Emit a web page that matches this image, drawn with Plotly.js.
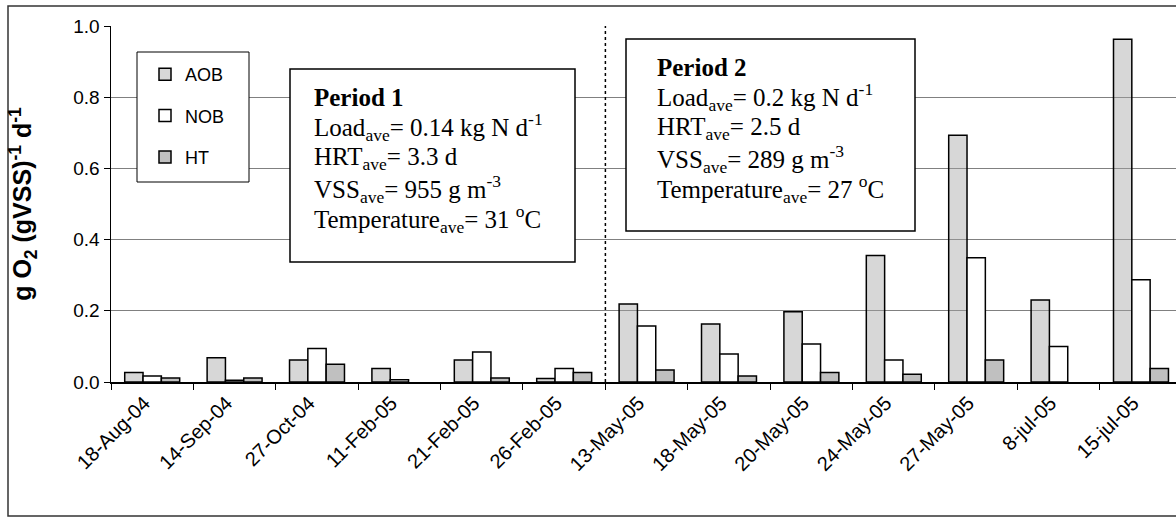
<!DOCTYPE html>
<html>
<head>
<meta charset="utf-8">
<script src="https://cdn.plot.ly/plotly-3.0.1.min.js"></script>
<style>html,body{margin:0;padding:0;background:#fff;overflow:hidden}#chart{width:1176px;height:521px}</style>
</head>
<body>
<div id="chart"></div>
<script>
const dates = ['18-Aug-04','14-Sep-04','27-Oct-04','11-Feb-05','21-Feb-05','26-Feb-05','13-May-05','18-May-05','20-May-05','24-May-05','27-May-05','8-jul-05','15-jul-05'];
const aob = [0.027,0.068,0.062,0.038,0.062,0.010,0.219,0.163,0.197,0.355,0.693,0.230,0.963];
const nob = [0.017,0.005,0.094,0.006,0.084,0.038,0.157,0.079,0.107,0.062,0.349,0.100,0.287];
const ht  = [0.011,0.011,0.050,null,0.011,0.027,0.034,0.017,0.027,0.022,0.062,null,0.038];
const seriesNames = ['AOB','NOB','HT'];
const period1Lines = ['<b>Period 1</b>','Load<sub>ave</sub>= 0.14 kg N d<sup>-1</sup>','HRT<sub>ave</sub>= 3.3 d','VSS<sub>ave</sub>= 955 g m<sup>-3</sup>','Temperature<sub>ave</sub>= 31 <sup>o</sup>C'];
const period2Lines = ['<b>Period 2</b>','Load<sub>ave</sub>= 0.2 kg N d<sup>-1</sup>','HRT<sub>ave</sub>= 2.5 d','VSS<sub>ave</sub>= 289 g m<sup>-3</sup>','Temperature<sub>ave</sub>= 27 <sup>o</sup>C'];
const yTitle = '<b>g O<sub>2</sub> (gVSS)<sup>-1</sup> d<sup>-1</sup></b>';

const W = 1176, H = 521, ML = 111, MR = 0, MT = 26, MB = 139;
const PW = W - ML - MR, PH = H - MT - MB;
const px = x => (x - ML) / PW;
const py = y => (H - MB - y) / PH;

const line = {color:'#000', width:1.5};
const traces = [
  {type:'bar', name:seriesNames[0], x:dates, y:aob, legendgroup:'a',
   marker:{color:'#d2d2d2', line:line, pattern:{shape:'.', fgcolor:'#a4a4a4', size:2, solidity:0.5}}},
  {type:'bar', name:seriesNames[1], x:dates, y:nob, legendgroup:'b',
   marker:{color:'#ffffff', line:line}},
  {type:'bar', name:seriesNames[2], x:dates, y:ht, legendgroup:'c',
   marker:{color:'#c0c0c0', line:line}}
];

const shapes = [
  {type:'rect', xref:'paper', yref:'paper', x0:px(8), x1:px(1190), y0:py(516), y1:py(6), line:{color:'#333', width:1.5}, fillcolor:'rgba(0,0,0,0)', layer:'below'},
  {type:'line', xref:'x', yref:'y', x0:5.5, x1:5.5, y0:0, y1:1, line:{color:'#000', width:1.5, dash:'dot'}},
  {type:'rect', xref:'paper', yref:'paper', x0:px(137), x1:px(249), y0:py(182), y1:py(52), line:{color:'#000', width:1}, fillcolor:'#fff', layer:'above'},
  {type:'rect', xref:'paper', yref:'paper', x0:px(290), x1:px(575), y0:py(262), y1:py(69), line:{color:'#000', width:1.5}, fillcolor:'#fff', layer:'above'},
  {type:'rect', xref:'paper', yref:'paper', x0:px(626), x1:px(915), y0:py(231), y1:py(39), line:{color:'#000', width:1.5}, fillcolor:'#fff', layer:'above'}
];

const annotations = [];
const tf = {family:'"Liberation Serif","Times New Roman",serif', size:25, color:'#000'};
const c2 = [67, 97, 128, 159, 189];
period1Lines.forEach((t,i)=>annotations.push({xref:'paper', yref:'paper', x:px(312), y:py(c2[i]+30), xanchor:'left', yanchor:'middle', text:t, showarrow:false, font:tf}));
period2Lines.forEach((t,i)=>annotations.push({xref:'paper', yref:'paper', x:px(655), y:py(c2[i]), xanchor:'left', yanchor:'middle', text:t, showarrow:false, font:tf}));

const layout = {
  width:W, height:H, margin:{l:ML, r:MR, t:MT, b:MB, pad:0},
  paper_bgcolor:'#fff', plot_bgcolor:'#fff',
  barmode:'group', bargap:0.333, bargroupgap:0,
  font:{family:'"Liberation Sans", Arial, sans-serif', color:'#000', size:17},
  xaxis:{type:'category', range:[-0.5, 12.425], tickson:'boundaries', ticks:'outside', ticklen:6, tickcolor:'#000', tickwidth:1,
         showline:true, linecolor:'#000', linewidth:1.5, showgrid:false, tickangle:-45, tickfont:{size:20}, ticklabelshift:-8, automargin:false},
  yaxis:{range:[0,1], dtick:0.2, tickformat:'.1f', ticks:'outside', ticklen:6, tickcolor:'#000', showline:true, linecolor:'#000', linewidth:1.5,
         showgrid:true, gridcolor:'#808080', gridwidth:1, zeroline:false, tickfont:{size:19}, automargin:false,
         title:{text:yTitle, font:{size:25}, standoff:34}},
  showlegend:true,
  legend:{x:px(145), y:py(56), xanchor:'left', yanchor:'top', xref:'paper', yref:'paper', bgcolor:'rgba(0,0,0,0)', borderwidth:0,
          font:{size:18}, tracegroupgap:15, traceorder:'grouped'},
  shapes:shapes, annotations:annotations
};
Plotly.newPlot('chart', traces, layout, {staticPlot:true, displayModeBar:false});
</script>
</body>
</html>
